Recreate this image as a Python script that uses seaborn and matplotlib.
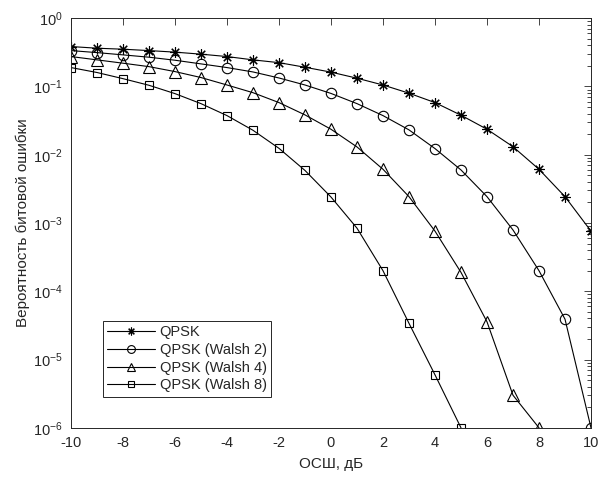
import numpy as np
import pandas as pd
import matplotlib
matplotlib.use('Agg')
import matplotlib.pyplot as plt
import matplotlib.ticker as mticker
import seaborn as sns

# values
snr_qpsk = [-10, -9, -8, -7, -6, -5, -4, -3, -2, -1, 0, 1, 2, 3, 4, 5, 6, 7, 8, 9, 10]
ber_qpsk = [0.384, 0.363, 0.351, 0.335, 0.318, 0.297, 0.274, 0.245, 0.223, 0.191, 0.162,
            0.132, 0.105, 0.0796, 0.058, 0.0379, 0.0236, 0.0131, 0.00612, 0.00243, 0.00076]

snr_w2 = [-10, -9, -8, -7, -6, -5, -4, -3, -2, -1, 0, 1, 2, 3, 4, 5, 6, 7, 8, 9, 10]
ber_w2 = [0.335, 0.313, 0.290, 0.268, 0.242, 0.214, 0.189, 0.163, 0.133, 0.105, 0.079,
          0.056, 0.0374, 0.0231, 0.0123, 0.00598, 0.00243, 0.00079, 0.0002, 3.9e-5, 1e-6]

snr_w4 = [-10, -9, -8, -7, -6, -5, -4, -3, -2, -1, 0, 1, 2, 3, 4, 5, 6, 7, 8]
ber_w4 = [0.274, 0.245, 0.219, 0.195, 0.165, 0.135, 0.105, 0.081, 0.058, 0.0383, 0.0236,
          0.013, 0.00612, 0.00243, 0.00076, 0.000189, 3.57e-5, 3.0e-6, 1e-6]

snr_w8 = [-10, -9, -8, -7, -6, -5, -4, -3, -2, -1, 0, 1, 2, 3, 4, 5]
ber_w8 = [0.189, 0.160, 0.130, 0.104, 0.0785, 0.056, 0.0374, 0.0228, 0.0124, 0.00588,
          0.0024, 0.00084, 0.0002, 3.39e-5, 5.97e-6, 1e-6]

labels = ['QPSK', 'QPSK (Walsh 2)', 'QPSK (Walsh 4)', 'QPSK (Walsh 8)']

sns.set_style('white')
plt.rcParams['font.family'] = ['Liberation Sans', 'DejaVu Sans']
plt.rcParams['mathtext.fontset'] = 'custom'
plt.rcParams['mathtext.rm'] = 'Liberation Sans'
plt.rcParams['axes.unicode_minus'] = False

fig = plt.figure(figsize=(6, 4.78), dpi=100)
ax = fig.add_axes([0.1183, 0.105, 0.8667, 0.857])

dark = '#262626'
series = [
    (snr_qpsk, ber_qpsk, (8, 2, 0), 7.5),
    (snr_w2, ber_w2, 'o', 7.5),
    (snr_w4, ber_w4, '^', 8.5),
    (snr_w8, ber_w8, 's', 5.8),
]
for (x, y, m, ms), lab in zip(series, labels):
    sns.lineplot(x=x, y=y, ax=ax, color='black', marker=m, markersize=ms,
                 markerfacecolor='none', markeredgecolor='black', markeredgewidth=0.8,
                 linewidth=0.8, label=lab, legend=False)

ax.set_yscale('log')
ax.set_xlim(-10, 10)
ax.set_ylim(1e-6, 1)
ax.set_xticks(np.arange(-10, 11, 2))
ax.yaxis.set_major_locator(mticker.LogLocator(base=10, numticks=10))
ax.yaxis.set_minor_locator(mticker.LogLocator(base=10, subs=np.arange(2, 10), numticks=20))
ax.yaxis.set_minor_formatter(mticker.NullFormatter())

ax.tick_params(which='both', direction='in', top=True, right=True, colors=dark,
               labelsize=10.5, width=0.6)
ax.tick_params(which='major', length=5, pad=6)
ax.tick_params(which='minor', length=3)
for s in ax.spines.values():
    s.set_color(dark)
    s.set_linewidth(0.7)

ax.set_xlabel('ОСШ, дБ', fontsize=11, color=dark, labelpad=5)
ax.set_ylabel('Вероятность битовой ошибки', fontsize=11, color=dark, labelpad=2)

leg = ax.legend(ax.lines, labels, loc='lower left', bbox_to_anchor=(0.061, 0.0757),
                borderaxespad=0, fontsize=10.5, handlelength=3.3, labelspacing=0.25,
                handletextpad=0.3, borderpad=0.3, fancybox=False, framealpha=1,
                markerscale=0.75)
leg.get_frame().set_edgecolor(dark)
leg.get_frame().set_linewidth(0.7)

fig.savefig('out.png', dpi=100)
